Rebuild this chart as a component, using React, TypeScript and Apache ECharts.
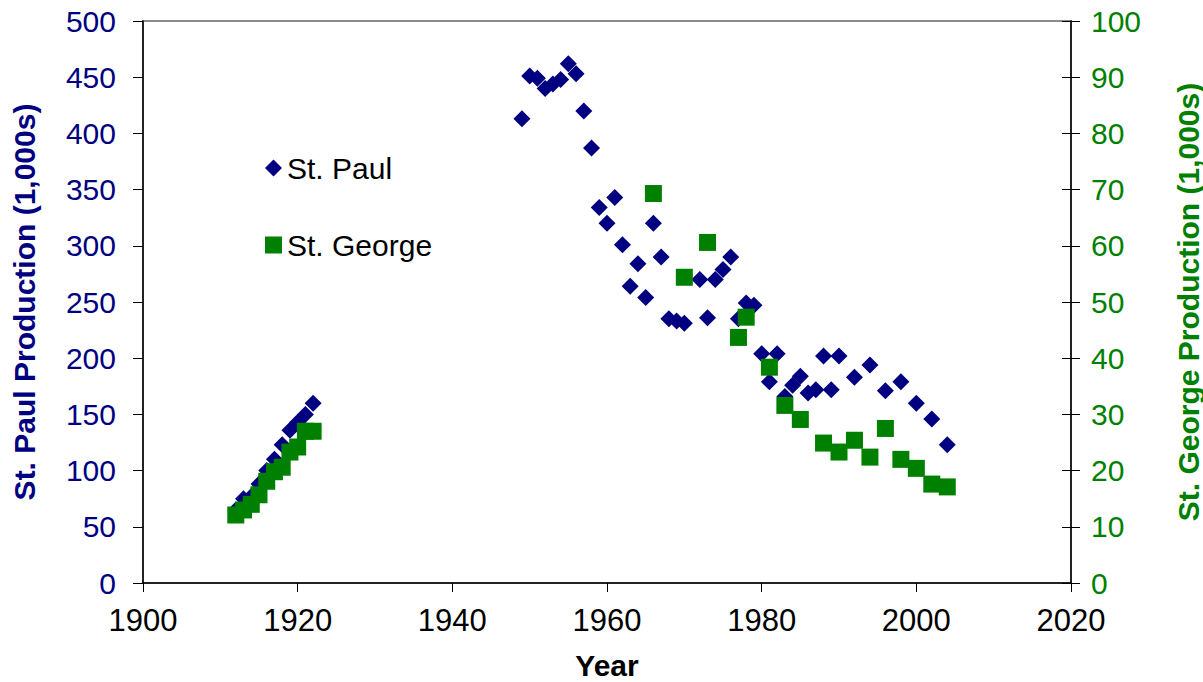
import React, { useEffect, useRef } from "react";
import * as echarts from "echarts";

const xTicks = { min: 1900, max: 2020, interval: 20 };
const leftTicks = { min: 0, max: 500, interval: 50 };
const rightTicks = { min: 0, max: 100, interval: 10 };

const paulYears = [
  1912, 1913, 1914, 1915, 1916, 1917, 1918, 1919, 1920, 1921, 1922,
  1949, 1950, 1951, 1952, 1953, 1954, 1955, 1956, 1957, 1958, 1959, 1960,
  1961, 1962, 1963, 1964, 1965, 1966, 1967, 1968, 1969, 1970, 1972, 1973,
  1974, 1975, 1976, 1977, 1978, 1979, 1980, 1981, 1982, 1983, 1984, 1985,
  1986, 1987, 1988, 1989, 1990, 1992, 1994, 1996, 1998, 2000, 2002, 2004,
];
const paulValues = [
  65, 75, 77, 88, 100, 110, 123, 136, 143, 150, 160,
  413, 451, 449, 440, 444, 448, 462, 453, 420, 387, 334, 320,
  343, 301, 264, 284, 254, 320, 290, 235, 233, 231, 270, 236,
  270, 279, 290, 235, 249, 247, 204, 179, 204, 166, 176, 184,
  169, 172, 202, 172, 202, 183, 194, 171, 179, 160, 146, 123,
];

const georgeYears = [
  1912, 1913, 1914, 1915, 1916, 1917, 1918, 1919, 1920, 1921, 1922,
  1966, 1970, 1973, 1977, 1978, 1981, 1983, 1985, 1988, 1990, 1992,
  1994, 1996, 1998, 2000, 2002, 2004,
];
const georgeValues = [
  12.1, 13, 14, 15.7, 18.1, 19.8, 20.6, 23.3, 24.2, 27, 27,
  69.3, 54.4, 60.6, 43.7, 47.3, 38.4, 31.6, 29.1, 24.9, 23.3, 25.4,
  22.4, 27.5, 22, 20.4, 17.6, 17.1,
];

const seriesNames = ["St. Paul", "St. George"];
const axisTitles = {
  x: "Year",
  left: "St. Paul Production (1,000s)",
  right: "St. George Production (1,000s)",
};

const NAVY = "#000080";
const GREEN = "#008000";
const FONT = "'Liberation Sans', Arial, sans-serif";

export default function App() {
  const ref = useRef<HTMLDivElement>(null);

  useEffect(() => {
    document.body.style.margin = "0";
    if (!ref.current) return;
    const chart = echarts.init(ref.current, undefined, { renderer: "svg" });

    const gridLeft = 143;
    const gridRight = 1203 - 1071;
    const gridTop = 21;
    const gridBottom = 682 - 583;
    const midY = (gridTop + (682 - gridBottom)) / 2;

    chart.setOption({
      animation: false,
      backgroundColor: "#ffffff",
      textStyle: { fontFamily: FONT },
      grid: {
        left: gridLeft,
        right: gridRight,
        top: gridTop,
        bottom: gridBottom,
        show: true,
        borderColor: "#8a8a8a",
        borderWidth: 2,
        backgroundColor: "transparent",
      },
      legend: {
        data: seriesNames,
        orient: "vertical",
        left: 260,
        top: 148,
        itemWidth: 17,
        itemHeight: 17,
        itemGap: 47,
        textStyle: { fontSize: 30, color: "#000", fontFamily: FONT },
      },
      xAxis: {
        type: "value",
        min: xTicks.min,
        max: xTicks.max,
        interval: xTicks.interval,
        axisLine: { show: true, onZero: false, lineStyle: { color: "#000", width: 1.5 } },
        axisTick: { show: true, length: 9, lineStyle: { color: "#000" } },
        splitLine: { show: false },
        axisLabel: {
          fontSize: 31,
          color: "#000",
          margin: 22,
          fontFamily: FONT,
          formatter: (v: number) => String(v),
        },
      },
      yAxis: [
        {
          type: "value",
          position: "left",
          min: leftTicks.min,
          max: leftTicks.max,
          interval: leftTicks.interval,
          axisLine: { show: true, lineStyle: { color: "#000", width: 1.5 } },
          axisTick: { show: true, length: 10, lineStyle: { color: "#000" } },
          splitLine: { show: false },
          axisLabel: { fontSize: 30, color: NAVY, margin: 27, fontFamily: FONT },
        },
        {
          type: "value",
          position: "right",
          min: rightTicks.min,
          max: rightTicks.max,
          interval: rightTicks.interval,
          axisLine: { show: true, lineStyle: { color: "#000", width: 1.5 } },
          axisTick: { show: true, length: 9, lineStyle: { color: "#000" } },
          splitLine: { show: false },
          axisLabel: { fontSize: 30, color: GREEN, margin: 20, fontFamily: FONT },
        },
        {
          type: "value",
          position: "right",
          min: rightTicks.min,
          max: rightTicks.max,
          interval: rightTicks.interval,
          axisLine: { show: false },
          axisTick: { show: true, inside: true, length: 9, lineStyle: { color: "#000" } },
          splitLine: { show: false },
          axisLabel: { show: false },
        },
      ],
      graphic: [
        {
          type: "text",
          x: 24,
          y: midY,
          rotation: Math.PI / 2,
          style: {
            text: axisTitles.left,
            fontSize: 30,
            fontWeight: "bold",
            fill: NAVY,
            fontFamily: FONT,
            align: "center",
            verticalAlign: "middle",
          },
        },
        {
          type: "text",
          x: 1188,
          y: midY,
          rotation: Math.PI / 2,
          style: {
            text: axisTitles.right,
            fontSize: 30,
            fontWeight: "bold",
            fill: GREEN,
            fontFamily: FONT,
            align: "center",
            verticalAlign: "middle",
          },
        },
        {
          type: "text",
          x: (gridLeft + 1071) / 2,
          y: 665,
          style: {
            text: axisTitles.x,
            fontSize: 30,
            fontWeight: "bold",
            fill: "#000",
            fontFamily: FONT,
            align: "center",
            verticalAlign: "middle",
          },
        },
      ],
      series: [
        {
          name: seriesNames[0],
          type: "scatter",
          yAxisIndex: 0,
          symbol: "diamond",
          symbolSize: 17,
          itemStyle: { color: NAVY, opacity: 1 },
          data: paulYears.map((y, i) => [y, paulValues[i]]),
        },
        {
          name: seriesNames[1],
          type: "scatter",
          yAxisIndex: 1,
          symbol: "rect",
          symbolSize: 17,
          itemStyle: { color: GREEN, opacity: 1 },
          data: georgeYears.map((y, i) => [y, georgeValues[i]]),
        },
      ],
    });

    return () => chart.dispose();
  }, []);

  return <div ref={ref} style={{ width: 1203, height: 682 }} />;
}
